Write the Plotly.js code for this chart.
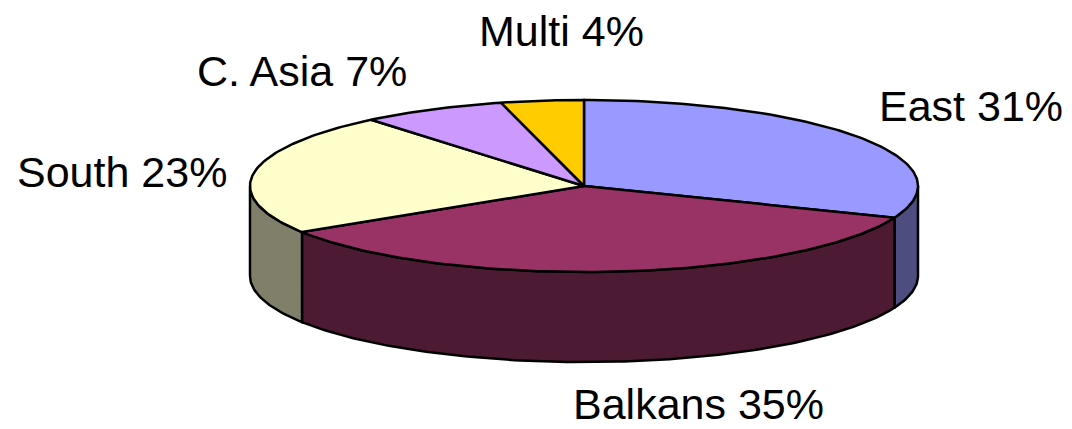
<!DOCTYPE html>
<html>
<head>
<meta charset="utf-8">
<script src="https://cdn.plot.ly/plotly-3.0.1.min.js"></script>
<style>html,body{margin:0;padding:0;background:#fff;}#chart{width:1072px;height:429px;}</style>
</head>
<body>
<div id="chart"></div>
<script>
// ---- data ----
const categories = ["East", "Balkans", "South", "C. Asia", "Multi"];
const shares = [31, 35, 23, 7, 4];
const labelTexts = ["East 31%", "Balkans 35%", "South 23%", "C. Asia 7%", "Multi 4%"];

// ---- style ----
const topColors  = ["#9999FF", "#993366", "#FFFFCC", "#CC99FF", "#FFCC00"];
const sideColors = ["#4D4D80", "#4D1A33", "#80806A", "#664D80", "#806600"];
const labelX = [971, 698, 122, 302, 561];
const labelY = [106, 404, 172, 71, 31];
const geom = {cx: 584, cy: 186, rx: 334, ry: 86, depth: 90};

const total = shares.reduce((a, b) => a + b, 0);
const DEG = Math.PI / 180;
function px(a) { return geom.cx + geom.rx * Math.cos(a * DEG); }
function py(a, dz) { return geom.cy - geom.ry * Math.sin(a * DEG) + (dz || 0); }
function arc(a1, a2, dz) {
  const n = Math.max(2, Math.ceil(Math.abs(a2 - a1)));
  const xs = [], ys = [];
  for (let i = 0; i <= n; i++) {
    const a = a1 + (a2 - a1) * i / n;
    xs.push(px(a)); ys.push(py(a, dz));
  }
  return [xs, ys];
}

// slice angles: start at 12 o'clock, clockwise
const starts = [], ends = [];
let acc = 0;
shares.forEach(v => {
  starts.push(90 - acc / total * 360);
  acc += v;
  ends.push(90 - acc / total * 360);
});

const traces = [];
// side walls (front half only)
shares.forEach((v, i) => {
  const s = starts[i], e = ends[i];
  for (let k = -1; k <= 1; k++) {
    const lo = Math.max(e, -180 + 360 * k), hi = Math.min(s, 360 * k);
    if (hi - lo > 0.01) {
      const [tx, ty] = arc(hi, lo, 0);
      const [bx, by] = arc(lo, hi, geom.depth);
      const xs = tx.concat(bx), ys = ty.concat(by);
      xs.push(xs[0]); ys.push(ys[0]);
      traces.push({type: "scatter", mode: "lines", x: xs, y: ys, fill: "toself",
        fillcolor: sideColors[i], line: {color: "#000", width: 2.5}, hoverinfo: "skip", showlegend: false});
    }
  }
});
// tops
shares.forEach((v, i) => {
  const [ax, ay] = arc(starts[i], ends[i], 0);
  const xs = [geom.cx].concat(ax, [geom.cx]);
  const ys = [geom.cy].concat(ay, [geom.cy]);
  traces.push({type: "scatter", mode: "lines", x: xs, y: ys, fill: "toself",
    fillcolor: topColors[i], line: {color: "#000", width: 2.5}, name: categories[i],
    hoverinfo: "name", showlegend: false});
});

const annotations = labelTexts.map((t, i) => ({
  x: labelX[i], y: labelY[i], xref: "x", yref: "y", text: t, showarrow: false,
  xanchor: "center", yanchor: "middle",
  font: {family: "Liberation Sans, Arial, sans-serif", size: 43, color: "#000"}
}));

const layout = {
  width: 1072, height: 429,
  margin: {l: 0, r: 0, t: 0, b: 0},
  paper_bgcolor: "#fff", plot_bgcolor: "#fff",
  xaxis: {range: [0, 1072], visible: false, fixedrange: true},
  yaxis: {range: [429, 0], visible: false, fixedrange: true},
  annotations: annotations,
  showlegend: false
};
Plotly.newPlot("chart", traces, layout, {displayModeBar: false, staticPlot: true});
</script>
</body>
</html>
